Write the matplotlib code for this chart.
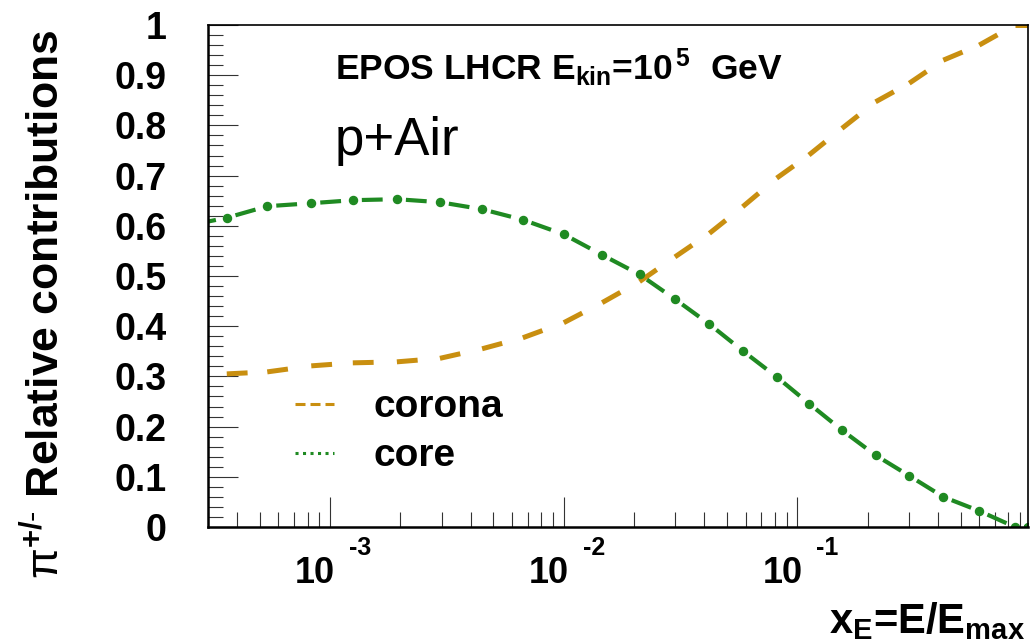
import numpy as np
import matplotlib
matplotlib.use("Agg")
import matplotlib.pyplot as plt
from matplotlib.lines import Line2D
from matplotlib.ticker import LogLocator, MultipleLocator, NullFormatter

# x_E = E/E_max sample points (shared by both curves)
x_e = [2.43e-4, 3.61e-4, 5.38e-4, 8.30e-4, 1.25e-3, 1.93e-3, 2.95e-3, 4.47e-3,
       6.68e-3, 1.00e-2, 1.46e-2, 2.11e-2, 2.99e-2, 4.20e-2, 5.83e-2, 8.15e-2,
       0.112, 0.155, 0.216, 0.301, 0.421, 0.600, 0.853, 0.97]
corona = [0.300, 0.305, 0.309, 0.321, 0.327, 0.329, 0.336, 0.355, 0.377, 0.407,
          0.447, 0.489, 0.538, 0.585, 0.638, 0.695, 0.741, 0.794, 0.847, 0.884,
          0.930, 0.960, 1.0, 1.0]
core = [0.600, 0.616, 0.639, 0.645, 0.651, 0.653, 0.647, 0.633, 0.612, 0.583,
        0.542, 0.503, 0.454, 0.404, 0.351, 0.299, 0.246, 0.193, 0.143, 0.102,
        0.060, 0.032, 0.0, 0.0]
decades = [1e-3, 1e-2, 1e-1]
exponents = ["-3", "-2", "-1"]

orange = "#c98f10"
green = "#1f8a22"

plt.rcParams["font.family"] = ["Liberation Sans", "DejaVu Sans"]
plt.rcParams["mathtext.fontset"] = "custom"
plt.rcParams["mathtext.rm"] = "Liberation Sans"
plt.rcParams["mathtext.bf"] = "Liberation Sans:bold"
plt.rcParams["mathtext.it"] = "Liberation Sans:italic"
plt.rcParams["lines.scale_dashes"] = False

fig = plt.figure(figsize=(10.32, 6.43), dpi=100)
ax = fig.add_axes([208 / 1032, 116 / 643, 820 / 1032, 502 / 643])

# ROOT restarts the dash pattern on every segment, so draw segment by segment
for i in range(len(x_e) - 1):
    ax.plot(x_e[i:i + 2], corona[i:i + 2], color=orange, lw=3.6,
            ls=(0, (15, 1000)))
    ax.plot(x_e[i:i + 2], core[i:i + 2], color=green, lw=3.0,
            ls=(1008.5, (15, 1000)))
ax.plot(x_e, core, ls="none", marker="o", ms=5.8, color=green)

ax.set_xscale("log")
ax.set_xlim(3e-4, 0.97)
ax.set_ylim(0, 1)

ax.set_xticks(decades)
ax.set_xticklabels([])
ax.xaxis.set_minor_locator(LogLocator(base=10, subs=np.arange(2, 10)))
ax.xaxis.set_minor_formatter(NullFormatter())
ax.set_yticks(np.arange(0, 1.01, 0.1))
ax.set_yticklabels(["0", "0.1", "0.2", "0.3", "0.4", "0.5", "0.6", "0.7", "0.8", "0.9", "1"],
                   fontsize=27, fontweight="bold")
ax.yaxis.set_minor_locator(MultipleLocator(0.02))

ax.tick_params(which="both", direction="in", top=False, right=False, color="#333333", width=0.8)
ax.tick_params(which="major", length=21.6)
ax.tick_params(which="minor", length=10.8)
ax.tick_params(axis="y", pad=30)

for side in ["bottom", "left"]:
    ax.spines[side].set_linewidth(1.8)
for side in ["top", "right"]:
    ax.spines[side].set_linewidth(1.2)

# decade labels drawn ROOT style: "10" with a detached exponent
for d, e in zip(decades, exponents):
    ax.annotate("10", xy=(d, 0), xycoords=("data", "axes fraction"),
                xytext=(5, -56), textcoords="offset pixels",
                ha="right", va="baseline", fontsize=26, fontweight="bold")
    ax.annotate(e, xy=(d, 0), xycoords=("data", "axes fraction"),
                xytext=(19, -28), textcoords="offset pixels",
                ha="left", va="baseline", fontsize=18, fontweight="bold")

ax.set_xlabel(r"x$_{\mathbf{E}}$=E/E$_{\mathbf{max}}$", fontsize=30, fontweight="bold")
ax.xaxis.label.set_ha("right")
ax.xaxis.label.set_va("baseline")
ax.xaxis.set_label_coords(0.996, -0.211)

ax.set_ylabel(r"$\mathrm{\pi}^{\mathbf{+/}\text{-}}$ Relative contributions",
              fontsize=32, fontweight="bold")
ax.yaxis.label.set_ha("right")
ax.yaxis.set_label_coords(-0.170, 0.99)

ax.text(0.155, 0.890, r"EPOS LHCR E$_{\mathbf{kin}}$=10$^{\,\mathbf{5}}$  GeV",
        transform=ax.transAxes, fontsize=25.5, fontweight="bold", va="baseline")
ax.text(0.155, 0.741, "p+Air", transform=ax.transAxes, fontsize=38, va="baseline")

handles = [Line2D([], [], color=orange, lw=2.2, ls=(0, (7.2, 3.6))),
           Line2D([], [], color=green, lw=2.2, ls=(0, (2.2, 3.2)))]
ax.legend(handles, ["corona", "core"], loc="upper left", bbox_to_anchor=(0.106, 0.274),
          frameon=False, borderpad=0, borderaxespad=0, handlelength=1.0,
          handletextpad=1.03, labelspacing=0.33,
          prop={"size": 28, "weight": "bold"})

fig.savefig("out.png", dpi=100)
